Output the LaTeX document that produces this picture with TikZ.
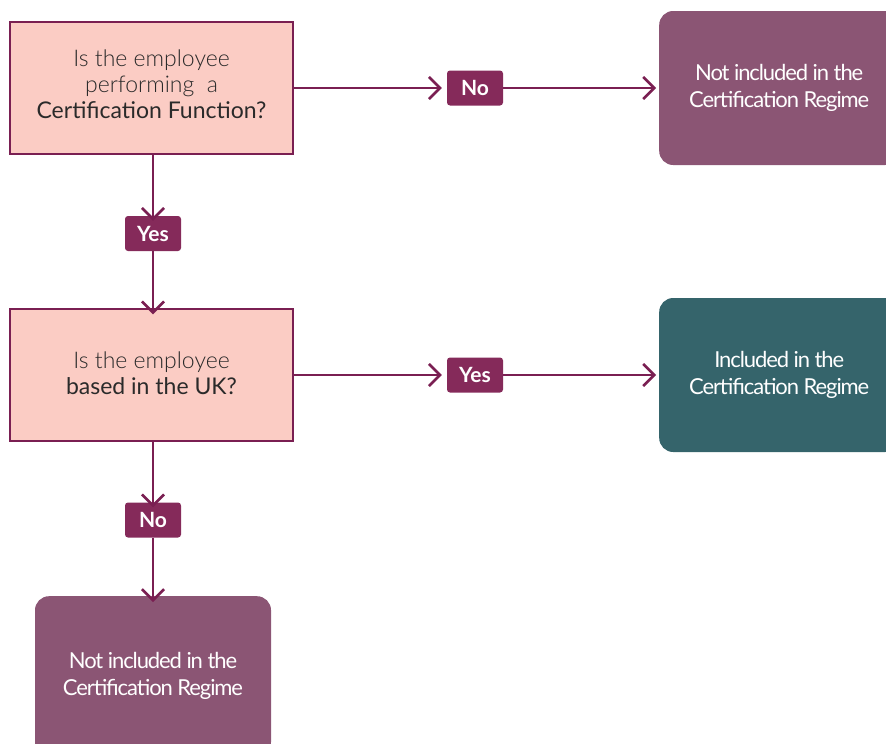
\documentclass[tikz,border=0pt]{standalone}
\usepackage{fontspec}
\setmainfont{Lato}
\newfontfamily\lightfont{Lato Light}
\usetikzlibrary{arrows.meta}
\definecolor{pinkfill}{HTML}{FBCCC4}
\definecolor{maroon}{HTML}{7A1F52}
\definecolor{labelc}{HTML}{852A5A}
\definecolor{purplebox}{HTML}{8B5574}
\definecolor{tealbox}{HTML}{35646B}
\definecolor{darktext}{HTML}{2A2A2A}
\tikzset{
  qbox/.style={draw=maroon, line width=1.4pt, fill=pinkfill, minimum width=283pt, minimum height=132pt, inner sep=0pt},
  qtext/.style={align=center, inner sep=0pt, font=\fontsize{23}{26}\selectfont, text=darktext},
  rbox/.style={rounded corners=14pt, minimum width=240pt, minimum height=154pt, align=center, inner sep=0pt, text=white, font=\fontsize{22}{27}\selectfont\addfontfeatures{LetterSpace=-5}},
  lab/.style={fill=labelc, rounded corners=3pt, minimum width=56pt, minimum height=35pt, inner sep=0pt, text=white, font=\fontsize{21}{22}\selectfont\bfseries},
  conn/.style={draw=maroon, line width=2.6pt, -{Straight Barb[length=11pt,width=22pt]}}
}
\begin{document}
\begin{tikzpicture}[x=1pt,y=-1pt]
\useasboundingbox (0,0) rectangle (886,744);
\node[qbox] (q1) at (151.5,88) {};
\node[qtext] (q1t) at (151.5,84.5) {{\lightfont Is the employee}\\{\lightfont performing~ a}\\Certification Function?};
\node[qbox] (q2) at (151.5,375) {};
\node[qtext] (q2t) at (151.5,373) {{\lightfont Is the employee}\\based in the UK?};
\node[lab] (no1) at (475,88) {No};
\node[lab] (yes1) at (153,233.5) {Yes};
\node[lab] (yes2) at (475,375) {Yes};
\node[lab] (no2) at (153,520) {No};
\node[rbox, fill=purplebox, anchor=west] (r1) at (659,88) {Not included in the\\Certification Regime};
\node[rbox, fill=tealbox, anchor=west] (r2) at (659,375) {Included in the\\Certification Regime};
\node[rbox, fill=purplebox, minimum width=236pt, minimum height=160pt, anchor=north] (r3) at (153,596) {Not included in the\\Certification Regime};
\draw[conn] (q1.east) -- ([xshift=-5pt]no1.west);
\draw[conn] (no1.east) -- ([xshift=-3pt]r1.west);
\draw[conn] (q1.south -| yes1) -- ([yshift=-5pt]yes1.north);
\draw[conn] (yes1.south) -- ([yshift=-6pt]q2.north -| yes1);
\draw[conn] (q2.east) -- ([xshift=-5pt]yes2.west);
\draw[conn] (yes2.east) -- ([xshift=-3pt]r2.west);
\draw[conn] (q2.south -| no2) -- ([yshift=-5pt]no2.north);
\draw[conn] (no2.south) -- ([yshift=-6pt]r3.north);
\end{tikzpicture}
\end{document}
